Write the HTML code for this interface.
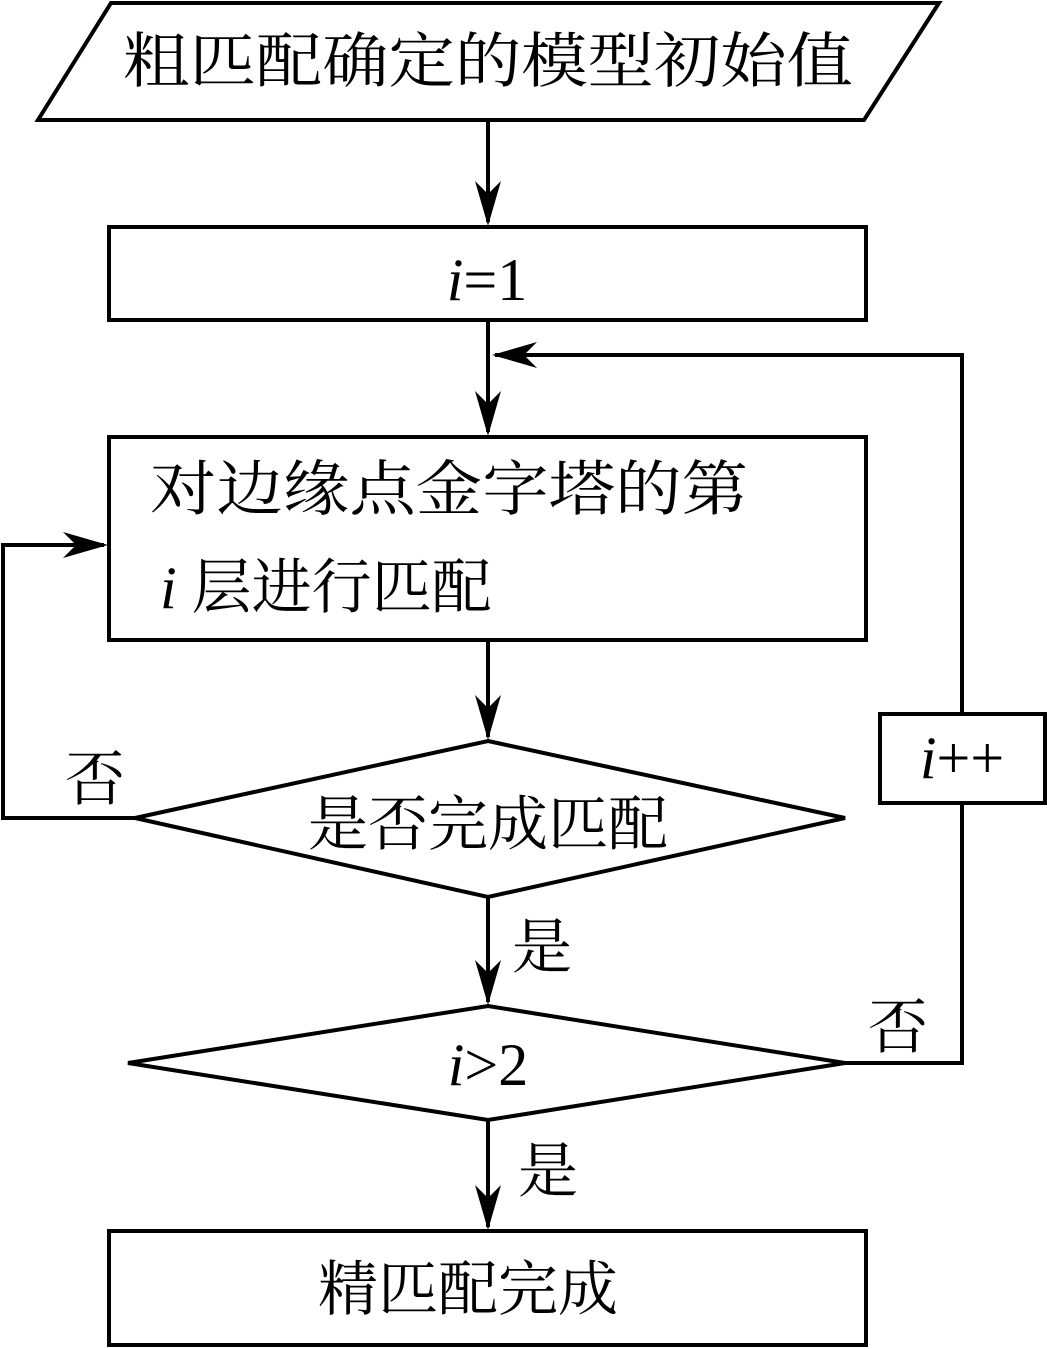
<!DOCTYPE html>
<html><head><meta charset="utf-8"><style>
html,body{margin:0;padding:0;background:#fff}
svg{display:block}
text{font-family:"Liberation Serif","Noto Serif CJK SC",serif;fill:#000}
.c{font-size:60px}
.i{font-style:italic}
</style></head><body>
<svg width="1047" height="1349" viewBox="0 0 1047 1349" xmlns="http://www.w3.org/2000/svg">
<defs>
<path id="ad" d="M0,0 L-13,-45 L0,-32 L13,-45 Z"/>
</defs>
<g fill="none" stroke="#000" stroke-width="4">
<polygon points="111,3 939,3 864,120 38,120"/>
<rect x="109" y="227" width="757" height="93"/>
<rect x="109" y="437" width="757" height="203"/>
<polygon points="488,741 845,818 488,897 135,818"/>
<polygon points="488,1006 845,1063 488,1120 128,1063"/>
<rect x="880" y="714" width="165" height="89"/>
<rect x="109" y="1231" width="757" height="114"/>
<polyline points="488,120 488,222"/>
<polyline points="488,320 488,432"/>
<polyline points="962,712 962,355 495,355"/>
<polyline points="488,640 488,737"/>
<polyline points="135,818 3,818 3,545 104,545"/>
<polyline points="488,897 488,1002"/>
<polyline points="845,1063 962,1063 962,803"/>
<polyline points="488,1120 488,1227"/>
</g>
<g fill="#000">
<use href="#ad" transform="translate(488,226)"/>
<use href="#ad" transform="translate(488,436)"/>
<use href="#ad" transform="translate(488,740)"/>
<use href="#ad" transform="translate(488,1005)"/>
<use href="#ad" transform="translate(488,1230)"/>
<use href="#ad" transform="translate(492,355) rotate(90)"/>
<use href="#ad" transform="translate(108,545) rotate(-90)"/>
</g>
<text class="c" x="488" y="82" text-anchor="middle" textLength="730" lengthAdjust="spacingAndGlyphs">粗匹配确定的模型初始值</text>
<text class="c" x="487" y="300" text-anchor="middle"><tspan class="i">i</tspan>=1</text>
<text class="c" x="150" y="510" textLength="598" lengthAdjust="spacingAndGlyphs">对边缘点金字塔的第</text>
<text class="c" x="160" y="608"><tspan class="i">i</tspan> 层进行匹配</text>
<text class="c" x="488" y="845" text-anchor="middle">是否完成匹配</text>
<text class="c" x="488" y="1085" text-anchor="middle"><tspan class="i">i</tspan>&gt;2</text>
<text class="c" x="468" y="1310" text-anchor="middle">精匹配完成</text>
<text class="c" x="962" y="778" text-anchor="middle"><tspan class="i">i</tspan>++</text>
<text class="c" x="65" y="800">否</text>
<text class="c" x="512" y="968">是</text>
<text class="c" x="868" y="1048">否</text>
<text class="c" x="518" y="1192">是</text>
</svg>
</body></html>
